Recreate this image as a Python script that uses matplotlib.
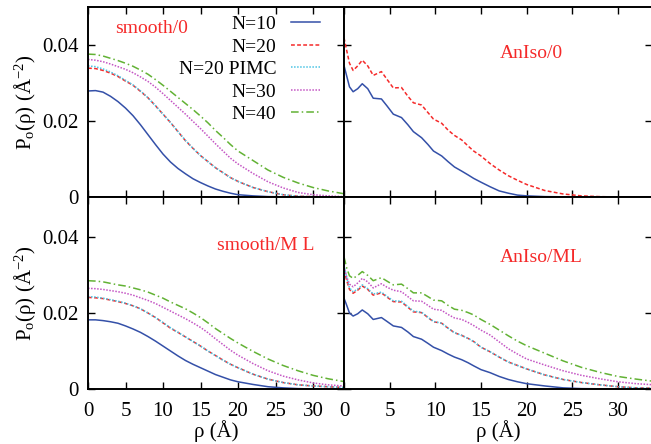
import matplotlib
matplotlib.use("Agg")
import matplotlib.pyplot as plt

plt.rcParams['font.family'] = ['Liberation Serif', 'DejaVu Serif']
plt.rcParams['mathtext.fontset'] = 'custom'
plt.rcParams['mathtext.rm'] = 'Liberation Serif'
plt.rcParams['mathtext.it'] = 'Liberation Serif:italic'

# ---- data ----
labels = ["N=10", "N=20", "N=20 PIMC", "N=30", "N=40"]

# smooth substrate: radial grid (Angstrom)
rho_s = [0, 1, 2, 3, 4, 5, 6, 7, 8, 9, 10, 11, 12, 13, 14, 15, 16, 17, 18, 19, 20,
         22, 24, 26, 28, 30, 32, 34]

smooth0_n10 = [0.0279, 0.0280, 0.0276, 0.0265, 0.0251, 0.0234, 0.0214, 0.0190, 0.0164, 0.0138,
               0.0113, 0.0092, 0.0075, 0.0061, 0.0048, 0.0038, 0.0029, 0.0021, 0.0015, 0.0010,
               0.0006, 0.0003, 0.0001, 0.00005, 0, 0, 0, 0]
smooth0_n20 = [0.0339, 0.0338, 0.0333, 0.0326, 0.0317, 0.0305, 0.0294, 0.0278, 0.0261, 0.0240,
               0.0218, 0.0196, 0.0172, 0.0148, 0.0128, 0.0109, 0.0093, 0.0077, 0.0064, 0.0051,
               0.0041, 0.0025, 0.0014, 0.0006, 0.0002, 0.0001, 0, 0]
smooth0_pimc = [0.0345, 0.0343, 0.0337, 0.0329, 0.0319, 0.0307, 0.0295, 0.0279, 0.0261, 0.0240,
                0.0218, 0.0196, 0.0172, 0.0149, 0.0128, 0.0109, 0.0093, 0.0077, 0.0064, 0.0051,
                0.0041, 0.0025, 0.0014, 0.0006, 0.0002, 0.0001, 0, 0]
smooth0_n30 = [0.0362, 0.0360, 0.0356, 0.0350, 0.0343, 0.0336, 0.0327, 0.0316, 0.0304, 0.0289,
               0.0272, 0.0254, 0.0236, 0.0218, 0.0199, 0.0180, 0.0160, 0.0140, 0.0121, 0.0102,
               0.0087, 0.0062, 0.0040, 0.0024, 0.0012, 0.0006, 0.0003, 0.0001]
smooth0_n40 = [0.0376, 0.0375, 0.0371, 0.0365, 0.0359, 0.0352, 0.0344, 0.0334, 0.0323, 0.0309,
               0.0294, 0.0278, 0.0262, 0.0246, 0.0230, 0.0213, 0.0195, 0.0175, 0.0157, 0.0138,
               0.0121, 0.0096, 0.0071, 0.0052, 0.0037, 0.0025, 0.0016, 0.0009]

smoothML_n10 = [0.0182, 0.0182, 0.0180, 0.0177, 0.0173, 0.0166, 0.0158, 0.0149, 0.0138, 0.0126,
                0.0113, 0.0100, 0.0087, 0.0075, 0.0065, 0.0056, 0.0047, 0.0038, 0.0031, 0.0024,
                0.0019, 0.0012, 0.0006, 0.0003, 0.0001, 0, 0, 0]
smoothML_n20 = [0.0241, 0.0240, 0.0238, 0.0234, 0.0230, 0.0225, 0.0219, 0.0211, 0.0200, 0.0188,
                0.0174, 0.0160, 0.0149, 0.0137, 0.0125, 0.0113, 0.0100, 0.0088, 0.0076, 0.0065,
                0.0056, 0.0039, 0.0026, 0.0017, 0.0011, 0.0008, 0.0006, 0.0004]
smoothML_pimc = [0.0243, 0.0242, 0.0239, 0.0235, 0.0231, 0.0226, 0.0219, 0.0211, 0.0200, 0.0188,
                 0.0175, 0.0161, 0.0149, 0.0137, 0.0125, 0.0113, 0.0100, 0.0088, 0.0076, 0.0065,
                 0.0056, 0.0039, 0.0026, 0.0017, 0.0011, 0.0008, 0.0006, 0.0004]
smoothML_n30 = [0.0265, 0.0264, 0.0262, 0.0259, 0.0256, 0.0252, 0.0247, 0.0240, 0.0233, 0.0225,
                0.0215, 0.0205, 0.0195, 0.0185, 0.0174, 0.0162, 0.0148, 0.0132, 0.0117, 0.0102,
                0.0089, 0.0067, 0.0048, 0.0034, 0.0024, 0.0016, 0.0011, 0.0008]
smoothML_n40 = [0.0285, 0.0284, 0.0282, 0.0278, 0.0274, 0.0271, 0.0266, 0.0261, 0.0255, 0.0247,
                0.0239, 0.0229, 0.0220, 0.0211, 0.0200, 0.0188, 0.0174, 0.0159, 0.0146, 0.0133,
                0.0121, 0.0099, 0.0079, 0.0062, 0.0048, 0.0036, 0.0027, 0.0020]

# anisotropic substrate: radial grid (Angstrom)
rho_a = [0, 0.3, 0.6, 1.0, 1.5, 2.0, 2.6, 3.2, 4.1, 4.7, 5.4, 6.3, 7.0, 7.6, 8.5, 9.2, 9.8,
         10.7, 11.4, 12.1, 12.9, 13.6, 14.2, 15.0, 16.0, 17.0, 18.0, 19.0, 20.0,
         22.0, 24.0, 26.0, 28.0, 30.0, 32.0, 34.0]

aniso0_n10 = [0.0346, 0.0318, 0.0290, 0.0277, 0.0285, 0.0298, 0.0285, 0.0260, 0.0258, 0.0240,
              0.0218, 0.0209, 0.0190, 0.0172, 0.0156, 0.0138, 0.0121, 0.0108, 0.0093, 0.0079,
              0.0068, 0.0058, 0.0049, 0.0039, 0.0027, 0.0016, 0.0010, 0.0005, 0.0003,
              0.0001, 0.00005, 0, 0, 0, 0, 0]
aniso0_n20 = [0.0419, 0.0385, 0.0352, 0.0333, 0.0345, 0.0360, 0.0345, 0.0320, 0.0330, 0.0310,
              0.0287, 0.0288, 0.0265, 0.0248, 0.0242, 0.0222, 0.0205, 0.0194, 0.0176, 0.0162,
              0.0150, 0.0134, 0.0121, 0.0108, 0.0088, 0.0071, 0.0056, 0.0044, 0.0033,
              0.0017, 0.0008, 0.0003, 0.0001, 0, 0, 0]

anisoML_n10 = [0.0239, 0.0220, 0.0200, 0.0192, 0.0198, 0.0208, 0.0198, 0.0183, 0.0188, 0.0178,
               0.0166, 0.0162, 0.0150, 0.0138, 0.0131, 0.0120, 0.0110, 0.0101, 0.0092, 0.0084,
               0.0077, 0.0069, 0.0061, 0.0051, 0.0043, 0.0033, 0.0025, 0.0019, 0.0014,
               0.0008, 0.0003, 0.0001, 0.00005, 0, 0, 0]
anisoML_n20 = [0.0313, 0.0285, 0.0262, 0.0252, 0.0260, 0.0271, 0.0262, 0.0247, 0.0253, 0.0242,
               0.0230, 0.0229, 0.0215, 0.0203, 0.0201, 0.0188, 0.0177, 0.0173, 0.0160, 0.0148,
               0.0141, 0.0133, 0.0125, 0.0110, 0.0098, 0.0084, 0.0071, 0.0062, 0.0053,
               0.0037, 0.0025, 0.0017, 0.0011, 0.0006, 0.0003, 0.0002]
anisoML_pimc = [0.0326, 0.0292, 0.0266, 0.0256, 0.0263, 0.0274, 0.0264, 0.0250, 0.0255, 0.0244,
                0.0232, 0.0231, 0.0217, 0.0205, 0.0202, 0.0189, 0.0178, 0.0173, 0.0160, 0.0148,
                0.0141, 0.0133, 0.0125, 0.0110, 0.0098, 0.0084, 0.0071, 0.0062, 0.0053,
                0.0037, 0.0025, 0.0017, 0.0011, 0.0006, 0.0003, 0.0002]
anisoML_n30 = [0.0322, 0.0295, 0.0276, 0.0269, 0.0279, 0.0291, 0.0282, 0.0266, 0.0277, 0.0268,
               0.0260, 0.0256, 0.0243, 0.0232, 0.0231, 0.0220, 0.0210, 0.0207, 0.0196, 0.0187,
               0.0183, 0.0175, 0.0167, 0.0155, 0.0142, 0.0124, 0.0106, 0.0092, 0.0079,
               0.0063, 0.0048, 0.0036, 0.0027, 0.0019, 0.0014, 0.0011]
anisoML_n40 = [0.0348, 0.0318, 0.0298, 0.0291, 0.0299, 0.0309, 0.0299, 0.0285, 0.0293, 0.0284,
               0.0274, 0.0276, 0.0264, 0.0253, 0.0253, 0.0243, 0.0234, 0.0232, 0.0220, 0.0210,
               0.0207, 0.0201, 0.0195, 0.0183, 0.0170, 0.0155, 0.0140, 0.0126, 0.0114,
               0.0094, 0.0074, 0.0057, 0.0044, 0.0033, 0.0026, 0.0020]

yticks = [0, 0.02, 0.04]
ytick_labels = ["0", "0.02", "0.04"]
xticks = [0, 5, 10, 15, 20, 25, 30]

# ---- styling ----
colors = ["#3450a8", "#f52a2a", "#4cc4e4", "#c455c4", "#62b234"]
styles = ["-", (0, (2.5, 1.5)), (0, (1, 1)), (0, (1, 1)), (0, (5, 2, 1, 2))]
txt_red = "#f52a2a"
FS = 14
TFS = 15

W, H = 651, 444
fig = plt.figure(figsize=(W / 100, H / 100), dpi=100)


def rect(x0, x1, ytop, ybot):
    return [x0 / W, 1 - ybot / H, (x1 - x0) / W, (ybot - ytop) / H]


ax_tl = fig.add_axes(rect(88, 344, 7, 197))
ax_tr = fig.add_axes(rect(344, 652, 7, 197))
ax_bl = fig.add_axes(rect(88, 344, 197, 389))
ax_br = fig.add_axes(rect(344, 652, 197, 389))

panels = [
    (ax_tl, rho_s, [smooth0_n10, smooth0_n20, smooth0_pimc, smooth0_n30, smooth0_n40]),
    (ax_tr, rho_a, [aniso0_n10, aniso0_n20, None, None, None]),
    (ax_bl, rho_s, [smoothML_n10, smoothML_n20, smoothML_pimc, smoothML_n30, smoothML_n40]),
    (ax_br, rho_a, [anisoML_n10, anisoML_n20, anisoML_pimc, anisoML_n30, anisoML_n40]),
]

for ax, rho, series in panels:
    for i, ys in enumerate(series):
        if ys is None:
            continue
        ax.plot(rho, ys, color=colors[i], linestyle=styles[i], lw=1.1, label=labels[i])
    for sp in ax.spines.values():
        sp.set_linewidth(1.4)
    ax.tick_params(direction="in", top=True, right=True, length=5, width=1.0,
                   labelsize=TFS)
    ax.tick_params(axis="x", pad=9)
    ax.tick_params(axis="y", pad=7)
    ax.set_xticks(xticks)
    ax.set_yticks(yticks)

ax_tl.set_xlim(0, 256 / 7.5)
ax_bl.set_xlim(0, 256 / 7.5)
ax_tr.set_xlim(0, 308 / 9.13)
ax_br.set_xlim(0, 308 / 9.13)
ax_tl.set_ylim(0, 0.05)
ax_tr.set_ylim(0, 0.05)
ax_bl.set_ylim(0, 192 / 3800)
ax_br.set_ylim(0, 192 / 3800)

for ax in (ax_tl, ax_bl):
    ax.set_yticklabels(ytick_labels)
    ax.set_ylabel("P$_{\\rm o}$(ρ) (Å$^{-2}$)", fontsize=TFS, labelpad=3)
for ax in (ax_tr, ax_br):
    ax.tick_params(labelleft=False)
for ax in (ax_tl, ax_tr):
    ax.tick_params(labelbottom=False)
for ax in (ax_bl, ax_br):
    ax.set_xlabel("ρ (Å)", fontsize=TFS, labelpad=0)

ax_tl.text(0.105, 0.889, "smooth/0", color=txt_red, fontsize=FS, transform=ax_tl.transAxes,
           ha="left", va="center")
ax_tr.text(0.506, 0.753, "AnIso/0", color=txt_red, fontsize=FS, transform=ax_tr.transAxes,
           ha="left", va="center")
ax_bl.text(0.504, 0.745, "smooth/M L", color=txt_red, fontsize=FS, transform=ax_bl.transAxes,
           ha="left", va="center")
ax_br.text(0.506, 0.6875, "AnIso/ML", color=txt_red, fontsize=FS, transform=ax_br.transAxes,
           ha="left", va="center")

ax_tl.legend(loc="upper right", bbox_to_anchor=(0.906, 0.955), frameon=False,
             markerfirst=False, fontsize=FS, handlelength=1.5, handletextpad=0.75,
             labelspacing=0.25, borderpad=0, borderaxespad=0)

fig.savefig("out.png", dpi=100)
